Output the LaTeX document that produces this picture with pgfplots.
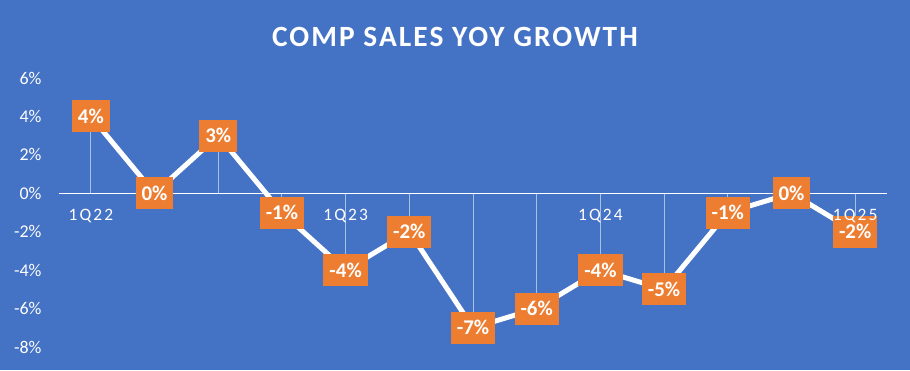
\documentclass[border=0pt]{standalone}
\usepackage{pgfplots}
\pgfplotsset{compat=1.18}
\usepackage{fontspec}
\setmainfont{Carlito}
\newfontfamily\spacedfont[LetterSpace=12]{Carlito}
\newfontfamily\titlefont[LetterSpace=7]{Carlito}
\definecolor{bgblue}{HTML}{4472C4}
\definecolor{accorange}{HTML}{ED7D31}
\pgfplotsset{
  layers/labelsontop/.define layer set={
    axis background,axis grid,axis ticks,axis lines,pre main,main,axis tick labels,axis descriptions,axis foreground
  }{/pgfplots/layers/standard},
}
\pgfplotstableread{
x y
0 4
1 0
2 3
3 -1
4 -4
5 -2
6 -7
7 -6
8 -4
9 -5
10 -1
11 0
12 -2
}\comptable
\begin{document}
\begin{tikzpicture}[x=1bp,y=1bp]
\fill[bgblue] (0,0) rectangle (910,370);
\node[text=white, font=\titlefont\bfseries\fontsize{29.5}{32}\selectfont] at (455,333) {COMP SALES YOY GROWTH};
\begin{axis}[
  set layers=labelsontop,
  at={(59bp,23bp)}, anchor=south west,
  width=828bp, height=269bp, scale only axis,
  xmin=-0.5, xmax=12.5, ymin=-8, ymax=6,
  clip=false,
  axis x line*=middle,
  axis y line*=left,
  x axis line style={-, white, line width=1.2bp},
  y axis line style={draw=none},
  xtick={0,...,12},
  xticklabels={1Q22,,,,1Q23,,,,1Q24,,,,1Q25},
  xtick style={white, line width=0.8bp},
  tick align=outside,
  major tick length=4bp,
  xticklabel style={text=white, font=\spacedfont\fontsize{17.5}{20}\selectfont, yshift=-8bp},
  ytick={-8,-6,...,6},
  yticklabels={-8\%,-6\%,-4\%,-2\%,0\%,2\%,4\%,6\%},
  ytick style={draw=none},
  yticklabel style={text=white, font=\fontsize{18}{20}\selectfont, xshift=-10bp},
]
\addplot[ycomb, draw=white, draw opacity=0.55, line width=0.9bp, no marks] table[x=x,y=y] {\comptable};
\draw[white, line width=1.2bp] (axis cs:-0.5,0) -- (axis cs:12.5,0);
\addplot[white, line width=5bp, no marks,
  point meta=y,
  nodes near coords={\pgfmathprintnumber[assume math mode=true]{\pgfplotspointmeta}\%},
  every node near coord/.append style={anchor=center, fill=accorange, text=white,
    font=\bfseries\fontsize{21}{24}\selectfont, inner xsep=6bp, inner ysep=9bp,
    text height=14bp, text depth=0bp},
] table[x=x,y=y] {\comptable};
\end{axis}
\end{tikzpicture}
\end{document}
